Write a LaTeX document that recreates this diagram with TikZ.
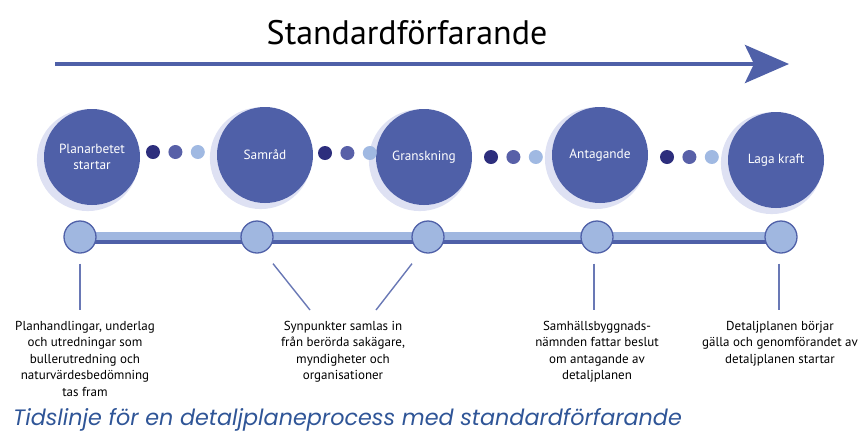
\documentclass[tikz,border=0pt]{standalone}
\usepackage{fontspec}
\setmainfont{PT Sans}
\newfontfamily\capfont{Poppins}
\usetikzlibrary{arrows.meta,positioning,shadows,backgrounds}

\definecolor{stageblue}{RGB}{79,96,168}
\definecolor{stageshade}{RGB}{222,225,243}
\definecolor{dotdarkc}{RGB}{45,46,125}
\definecolor{dotmidc}{RGB}{88,96,168}
\definecolor{dotlightc}{RGB}{160,185,226}
\definecolor{tickfill}{RGB}{160,183,224}
\definecolor{capblue}{RGB}{47,85,151}

\begin{document}
\begin{tikzpicture}[x=1pt,y=-1pt,
  stage/.style={circle, fill=stageblue, minimum size=96pt, inner sep=0pt,
    text=white, align=center, font=\fontsize{13.3}{16}\selectfont,
    general shadow={fill=stageshade, shadow xshift=-4pt, shadow yshift=-3pt, shadow scale=1.06}},
  dotbase/.style={circle, minimum size=14pt, inner sep=0pt},
  dotdark/.style={dotbase, fill=dotdarkc},
  dotmid/.style={dotbase, fill=dotmidc},
  dotlight/.style={dotbase, fill=dotlightc},
  tick/.style={circle, draw=stageblue, line width=1.3pt, fill=tickfill, minimum size=32pt, inner sep=0pt},
  leader/.style={draw=stageblue!85, line width=1.4pt},
  note/.style={anchor=north, align=center, inner sep=0pt, font=\fontsize{13}{16.5}\selectfont}]
\useasboundingbox (0,0) rectangle (861,432);

% heading and arrow
\node[anchor=base, font=\fontsize{34}{38}\selectfont] (title) at (407,44) {Standardförfarande};
\coordinate (arrowstart) at (55,64);
\coordinate (arrowend) at (789,64);
\draw[stageblue, line width=4.5pt, -{Stealth[length=44pt, width=38pt, inset=9pt]}] (arrowstart) -- (arrowend);

% stages
\node[stage] (s1) at (92,157) {Planarbetet\\startar};
\node[stage] (s2) at (265,155) {Samråd};
\node[stage] (s3) at (424,157) {Granskning};
\node[stage] (s4) at (600,155) {Antagande};
\node[stage] (s5) at (776,160) {Laga kraft};

% dots between stages
\foreach \x/\y [count=\i] in {153/152, 325/153, 491/157, 667/157} {
  \node[dotdark] (d\i a) at (\x,\y) {};
  \node[dotmid, right=8pt of d\i a] (d\i b) {};
  \node[dotlight, right=8pt of d\i b] (d\i c) {};
}

% timeline
\node[tick] (t1) at (80,237) {};
\node[tick] (t2) at (257,237) {};
\node[tick] (t3) at (428,237) {};
\node[tick] (t4) at (597,237) {};
\node[tick] (t5) at (781,237) {};
\begin{scope}[on background layer]
  \path[draw=tickfill, line width=8pt] ([yshift=1pt]t1.center) -- ([yshift=1pt]t5.center);
  \path[draw=stageblue, line width=4pt] ([yshift=-5pt]t1.center) -- ([yshift=-5pt]t5.center);
\end{scope}

% notes
\node[note] (n1) at (85,321) {Planhandlingar, underlag\\och utredningar som\\bullerutredning och\\naturvärdesbedömning\\tas fram};
\node[note] (n2) at (343,321) {Synpunkter samlas in\\från berörda sakägare,\\myndigheter och\\organisationer};
\node[note] (n3) at (597,321) {Samhällsbyggnads-\\nämnden fattar beslut\\om antagande av\\detaljplanen};
\node[note] (n4) at (780,321) {Detaljplanen börjar\\gälla och genomförandet av\\detaljplanen startar};

\coordinate (e1) at (80,310);
\coordinate (e2) at (310,310);
\coordinate (e3) at (376,310);
\coordinate (e4) at (594,310);
\coordinate (e5) at (779,310);
\draw[leader] ([yshift=-10pt]t1.south) -- (e1);
\draw[leader] ([xshift=16pt,yshift=-10pt]t2.south) -- (e2);
\draw[leader] ([xshift=-16pt,yshift=-10pt]t3.south) -- (e3);
\draw[leader] ([xshift=-3pt,yshift=-10pt]t4.south) -- (e4);
\draw[leader] ([xshift=-2pt,yshift=-10pt]t5.south) -- (e5);

% caption
\node[anchor=base west, inner sep=0pt, text=capblue, font=\capfont\itshape\fontsize{22.3}{25}\selectfont] (caption) at (13,425) {Tidslinje för en detaljplaneprocess med standardförfarande};
\end{tikzpicture}
\end{document}
